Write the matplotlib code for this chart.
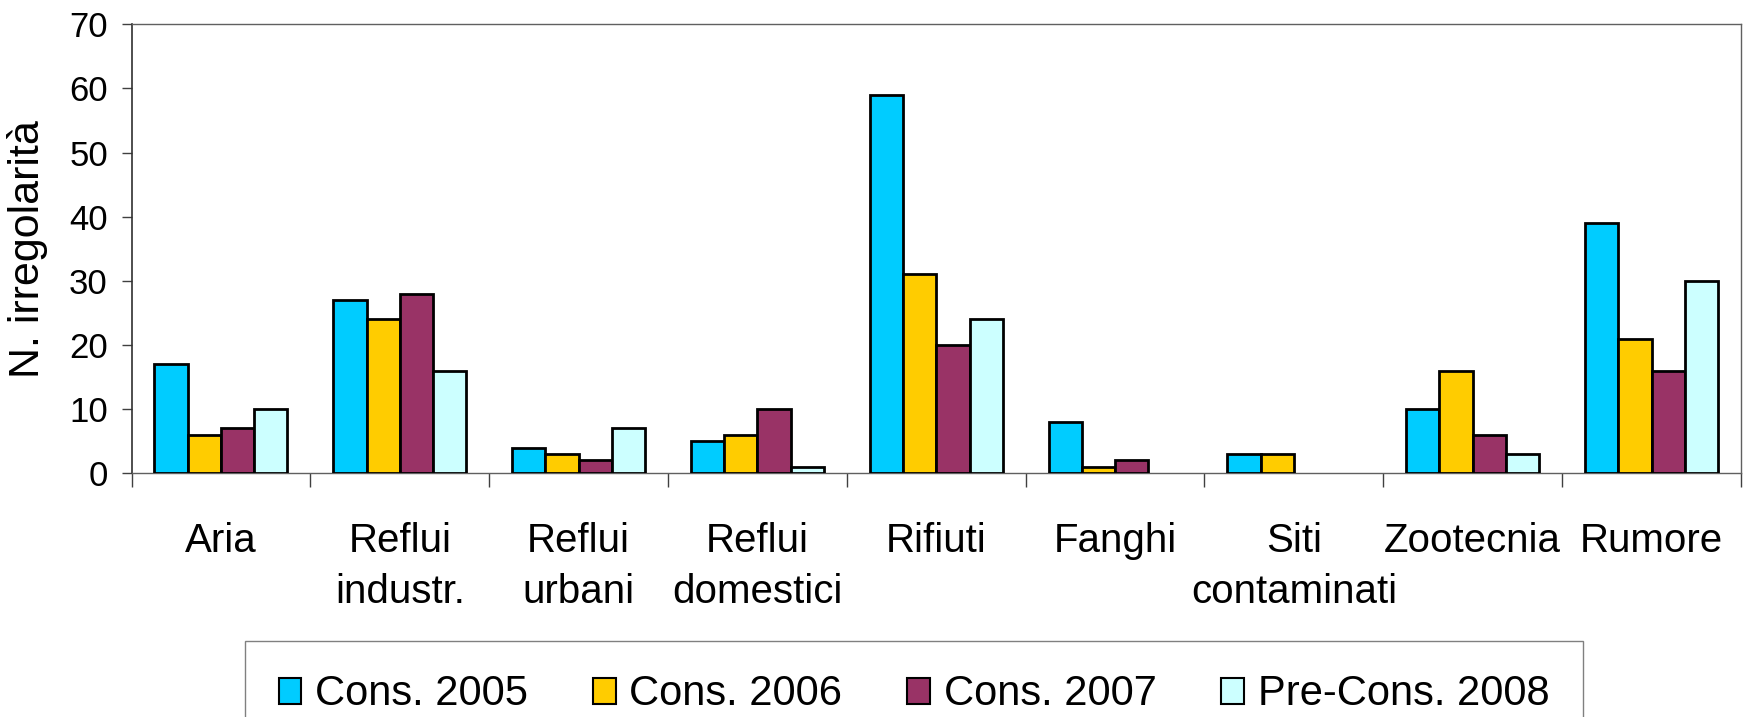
import numpy as np
import matplotlib.pyplot as plt
from matplotlib.patches import Patch

plt.rcParams['font.family'] = ['Liberation Sans', 'DejaVu Sans']

categories = ['Aria', 'Reflui\nindustr.', 'Reflui\nurbani', 'Reflui\ndomestici',
              'Rifiuti', 'Fanghi', 'Siti\ncontaminati', 'Zootecnia', 'Rumore']
series_names = ['Cons. 2005', 'Cons. 2006', 'Cons. 2007', 'Pre-Cons. 2008']
cons_2005 = [17, 27, 4, 5, 59, 8, 3, 10, 39]
cons_2006 = [6, 24, 3, 6, 31, 1, 3, 16, 21]
cons_2007 = [7, 28, 2, 10, 20, 2, 0, 6, 16]
precons_2008 = [10, 16, 7, 1, 24, 0, 0, 3, 30]
colors = ['#00CCFF', '#FFCC00', '#993366', '#CCFFFF']

fig = plt.figure(figsize=(17.49, 7.17), dpi=100)
ax = fig.add_axes([0.0752, 0.3399, 0.9202, 0.6262])

x = np.arange(len(categories)) + 0.5
width = 0.186
all_series = [cons_2005, cons_2006, cons_2007, precons_2008]
for i, (vals, col) in enumerate(zip(all_series, colors)):
    v = np.array(vals, dtype=float)
    ax.bar(x + (i - 1.5) * width, np.where(v > 0, v, np.nan), width,
           color=col, edgecolor='black', linewidth=2.0, zorder=3)

ax.set_xlim(0, len(categories))
ax.set_ylim(0, 70)
ax.set_yticks(range(0, 71, 10))
ax.tick_params(axis='y', labelsize=25, length=7, width=1, pad=10, color='#404040')

ax.set_xticks(x)
ax.set_xticklabels(categories, fontsize=29, linespacing=1.45)
ax.tick_params(axis='x', which='major', length=0, pad=35)
ax.set_xticks(np.arange(len(categories) + 1), minor=True)
ax.tick_params(axis='x', which='minor', length=10, width=1, color='#404040')

for side in ['top', 'right', 'bottom']:
    ax.spines[side].set_color('#606060')
    ax.spines[side].set_linewidth(1)
ax.spines['left'].set_color('#303030')
ax.spines['left'].set_linewidth(1.2)

ax.set_ylabel('N. irregolarità', fontsize=31)
ax.yaxis.set_label_coords(-0.052, 0.5)

# legend sits at the bottom edge, its lower part falls outside the figure
handles = [Patch(facecolor=c, edgecolor='black', linewidth=1.5) for c in colors]
leg = fig.legend(handles, series_names, loc='upper center',
                 bbox_to_anchor=(0.5226, 0.1058), ncol=4, fontsize=30,
                 frameon=True, fancybox=False, borderpad=0.8,
                 handlelength=0.55, handleheight=0.6, handletextpad=0.33,
                 columnspacing=1.55, borderaxespad=0)
leg.get_frame().set_edgecolor('#606060')
leg.get_frame().set_linewidth(1)

fig.savefig('out.png', dpi=100)
